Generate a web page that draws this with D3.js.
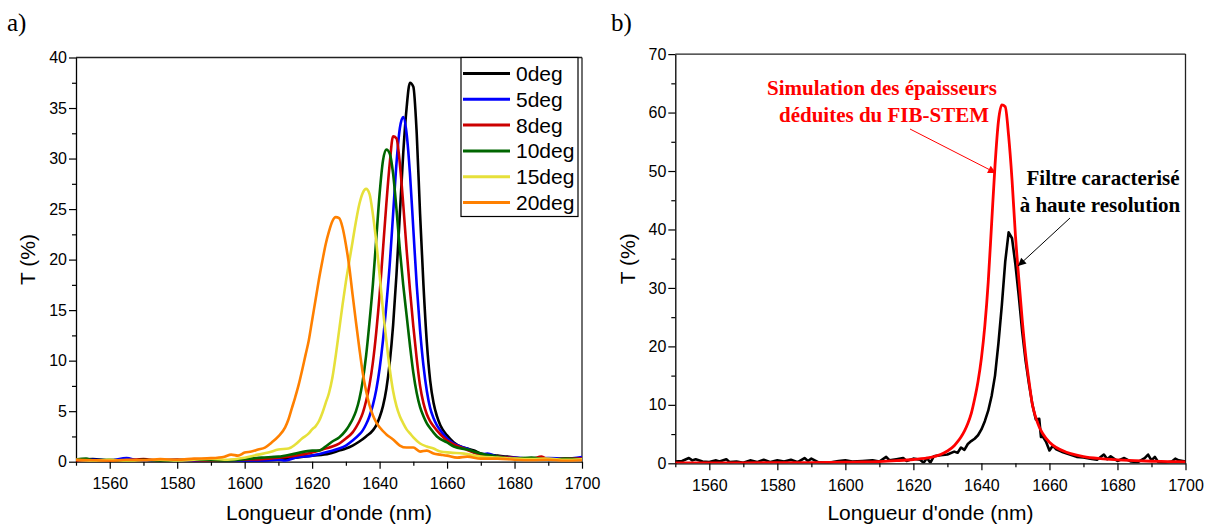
<!DOCTYPE html>
<html><head><meta charset="utf-8">
<script src="https://cdn.jsdelivr.net/npm/d3@7"></script>
<style>body{margin:0;background:#fff}svg{display:block}</style>
</head><body>
<svg id="c" width="1212" height="531"></svg>
<script>
// ---------- DATA ----------
const xTickValues = [1560, 1580, 1600, 1620, 1640, 1660, 1680, 1700];
const xMinorValues = [1550, 1570, 1590, 1610, 1630, 1650, 1670, 1690];
const yTicksA = [0, 5, 10, 15, 20, 25, 30, 35, 40];
const yMinorA = [2.5, 7.5, 12.5, 17.5, 22.5, 27.5, 32.5, 37.5];
const yTicksB = [0, 10, 20, 30, 40, 50, 60, 70];
const yMinorB = [5, 15, 25, 35, 45, 55, 65];

const legendLabels = ["0deg", "5deg", "8deg", "10deg", "15deg", "20deg"];
const seriesColors = ["#000000", "#0000FF", "#CC0000", "#006600", "#E6E03A", "#FF8000"];

// [wavelength nm, T %]
const deg0 = [[1550,0.2],[1555,0.25],[1560,0.15],[1565,0.2],[1570,0.1],[1575,0.15],[1580,0.2],[1585,0.1],[1590,0.15],[1595,0.05],[1600,0.05],[1605,0.1],[1610,0.2],[1615,0.4],[1620,0.6],[1625,0.8],[1628,1.1],[1630,1.3],[1632,1.6],[1634,2.0],[1636,2.5],[1638,3.1],[1639,3.6],[1640,4.4],[1641,5.5],[1642,7.2],[1643,9.8],[1644,13.5],[1645,18.5],[1646,24.5],[1647,30.5],[1648,35.0],[1649,37.5],[1650,37.1],[1651,32.5],[1652,24.5],[1653,17.5],[1654,11.8],[1655,8.0],[1656,5.8],[1657,4.5],[1658,3.6],[1660,2.6],[1662,1.9],[1664,1.5],[1666,1.3],[1668,1.1],[1670,0.8],[1672,0.7],[1675,0.6],[1678,0.5],[1680,0.4],[1685,0.3],[1690,0.2],[1695,0.25],[1700,0.2]];
const deg5 = [[1550,0.2],[1555,0.2],[1560,0.15],[1565,0.35],[1568,0.15],[1570,0.1],[1575,0.15],[1580,0.15],[1585,0.1],[1590,0.1],[1595,0.1],[1600,0.1],[1605,0.1],[1610,0.2],[1612,0.1],[1615,0.4],[1620,0.6],[1625,1.0],[1628,1.3],[1630,1.6],[1632,2.1],[1634,2.7],[1635,3.1],[1636,3.7],[1637,4.5],[1638,5.6],[1639,7.1],[1640,9.2],[1641,12.0],[1642,15.5],[1643,19.5],[1644,24.5],[1645,29.5],[1646,33.0],[1647,34.1],[1648,32.5],[1649,28.5],[1650,23.0],[1651,17.5],[1652,13.0],[1653,9.5],[1654,7.0],[1655,5.3],[1656,4.3],[1657,3.6],[1658,3.1],[1660,2.3],[1662,1.8],[1664,1.5],[1666,1.3],[1668,0.9],[1670,0.7],[1672,0.8],[1675,0.5],[1680,0.4],[1685,0.3],[1690,0.35],[1695,0.3],[1700,0.45]];
const deg8 = [[1550,0.1],[1555,0.15],[1560,0.1],[1565,0.15],[1570,0.25],[1575,0.15],[1580,0.2],[1585,0.15],[1590,0.1],[1595,0.15],[1600,0.2],[1605,0.25],[1610,0.4],[1615,0.6],[1620,0.9],[1624,1.3],[1626,1.5],[1628,1.8],[1630,2.3],[1632,2.9],[1633,3.4],[1634,4.0],[1635,4.8],[1636,6.0],[1637,7.6],[1638,9.8],[1639,12.8],[1640,16.5],[1641,21.0],[1642,25.5],[1643,29.5],[1644,32.2],[1645,32.0],[1646,29.5],[1647,25.5],[1648,21.0],[1649,17.0],[1650,13.4],[1651,10.2],[1652,7.5],[1653,5.8],[1654,4.7],[1655,4.0],[1656,3.5],[1658,2.7],[1660,2.1],[1662,1.7],[1665,1.3],[1668,0.9],[1670,0.7],[1675,0.5],[1680,0.35],[1685,0.3],[1688,0.5],[1690,0.2],[1695,0.3],[1700,0.3]];
const deg10 = [[1550,0.2],[1553,0.3],[1555,0.15],[1560,0.2],[1565,0.1],[1570,0.2],[1575,0.1],[1580,0.15],[1585,0.2],[1590,0.15],[1595,0.1],[1600,0.25],[1605,0.4],[1610,0.5],[1615,0.8],[1620,1.1],[1622,1.1],[1624,1.5],[1626,2.0],[1628,2.4],[1630,3.1],[1631,3.6],[1632,4.2],[1633,5.0],[1634,6.2],[1635,8.0],[1636,10.5],[1637,13.8],[1638,17.5],[1639,22.0],[1640,26.5],[1641,29.8],[1642,30.9],[1643,30.5],[1644,28.5],[1645,25.0],[1646,21.0],[1647,17.5],[1648,14.5],[1649,11.5],[1650,8.8],[1651,6.8],[1652,5.4],[1653,4.5],[1654,3.8],[1655,3.3],[1657,2.5],[1660,1.9],[1662,1.5],[1666,1.2],[1670,0.8],[1675,0.5],[1680,0.3],[1685,0.4],[1690,0.2],[1695,0.3],[1700,0.2]];
const deg15 = [[1550,0.2],[1555,0.1],[1560,0.2],[1565,0.1],[1570,0.15],[1575,0.2],[1580,0.1],[1585,0.2],[1590,0.3],[1595,0.2],[1600,0.4],[1604,0.7],[1607,0.9],[1610,1.2],[1613,1.3],[1615,1.7],[1617,2.3],[1619,2.8],[1620,3.2],[1621,3.5],[1622,4.0],[1623,4.8],[1624,5.8],[1625,6.8],[1626,8.3],[1627,10.5],[1628,13.0],[1629,15.5],[1630,17.8],[1631,19.8],[1632,21.8],[1633,23.8],[1634,25.5],[1635,26.6],[1636,27.0],[1637,26.5],[1638,24.5],[1639,21.8],[1640,18.5],[1641,15.0],[1642,12.0],[1643,9.2],[1644,7.0],[1645,5.5],[1646,4.5],[1647,3.8],[1648,3.2],[1649,2.8],[1650,2.4],[1652,1.8],[1654,1.5],[1656,1.3],[1658,1.0],[1661,0.9],[1665,0.8],[1670,0.5],[1675,0.4],[1680,0.3],[1685,0.25],[1690,0.3],[1695,0.2],[1700,0.25]];
const deg20 = [[1550,0.2],[1555,0.15],[1560,0.1],[1565,0.2],[1570,0.15],[1575,0.25],[1580,0.2],[1585,0.3],[1590,0.35],[1594,0.5],[1596,0.7],[1598,0.6],[1600,0.9],[1602,1.0],[1604,1.2],[1606,1.4],[1608,1.9],[1610,2.5],[1612,3.4],[1613,4.2],[1614,5.3],[1615,6.4],[1616,7.6],[1617,9.0],[1618,10.5],[1619,12.0],[1620,14.0],[1621,16.0],[1622,18.0],[1623,19.8],[1624,21.5],[1625,22.8],[1626,23.8],[1627,24.2],[1628,24.1],[1629,23.2],[1630,21.5],[1631,19.3],[1632,16.5],[1633,13.8],[1634,11.2],[1635,8.8],[1636,7.0],[1637,5.6],[1638,4.6],[1639,3.9],[1640,3.4],[1642,2.7],[1644,2.2],[1646,1.6],[1648,1.4],[1650,1.4],[1652,1.0],[1654,1.1],[1656,0.8],[1658,0.7],[1660,0.6],[1663,0.4],[1666,0.5],[1670,0.3],[1675,0.3],[1680,0.2],[1685,0.15],[1690,0.2],[1695,0.1],[1700,0.15]];

const measured = [[1550,0.3],[1552,0.4],[1554,0.9],[1555,0.5],[1556,0.7],[1558,0.3],[1560,0.2],[1562,0.5],[1563,0.3],[1565,0.7],[1566,0.2],[1568,0.3],[1570,0.1],[1572,0.5],[1574,0.2],[1576,0.6],[1578,0.2],[1580,0.5],[1582,0.3],[1584,0.6],[1586,0.2],[1588,0.9],[1589,0.4],[1590,0.8],[1592,0.2],[1595,0.1],[1598,0.4],[1600,0.5],[1602,0.3],[1605,0.4],[1608,0.5],[1610,0.3],[1612,1.1],[1613,0.5],[1615,0.7],[1617,0.9],[1618,0.4],[1620,0.8],[1622,0.6],[1623,0.1],[1624,0.9],[1625,0.1],[1626,1.2],[1628,1.4],[1630,1.5],[1632,2.0],[1633,1.8],[1634,2.7],[1635,2.3],[1636,3.3],[1637,3.8],[1638,4.2],[1639,4.8],[1640,5.8],[1641,7.2],[1642,9.0],[1643,11.5],[1644,15.0],[1645,20.5],[1646,27.0],[1647,34.5],[1648,39.5],[1649,38.5],[1650,34.0],[1651,28.5],[1652,22.5],[1653,17.5],[1654,13.5],[1655,10.0],[1656,7.5],[1657,7.6],[1657.5,4.5],[1658,4.6],[1659,3.7],[1660,2.2],[1661,3.0],[1662,2.4],[1664,1.9],[1666,1.5],[1668,1.1],[1670,1.0],[1672,0.8],[1674,0.6],[1676,1.5],[1677,0.7],[1678,1.2],[1680,0.4],[1682,0.9],[1684,0.3],[1686,0.2],[1688,0.9],[1689,1.5],[1690,0.5],[1691,1.1],[1692,0.2],[1694,0.1],[1696,0.3],[1697,0.8],[1698,0.5],[1700,0.3]];
const simulation = [[1550,0.05],[1560,0.07],[1570,0.08],[1580,0.1],[1590,0.12],[1600,0.18],[1605,0.22],[1610,0.3],[1615,0.45],[1620,0.65],[1625,1.0],[1628,1.5],[1630,2.1],[1632,3.0],[1633,3.7],[1634,4.5],[1635,5.5],[1636,6.8],[1637,8.5],[1638,11.0],[1639,14.0],[1640,18.0],[1641,23.5],[1642,31.0],[1643,41.0],[1644,51.0],[1645,58.5],[1646,61.3],[1647,61.0],[1648,56.0],[1649,48.5],[1650,39.0],[1651,31.5],[1652,24.5],[1653,18.5],[1654,14.0],[1655,10.0],[1656,7.8],[1657,6.2],[1658,5.1],[1660,3.6],[1662,2.7],[1665,1.9],[1668,1.4],[1670,1.15],[1675,0.8],[1680,0.6],[1685,0.45],[1690,0.35],[1695,0.3],[1700,0.25]];

const seriesA = [deg0, deg5, deg8, deg10, deg15, deg20];

// ---------- DRAW ----------
const svg = d3.select("#c");
const sansFont = "'Liberation Sans', Arial, sans-serif";
const serifFont = "'Liberation Serif', 'Times New Roman', serif";

function panel(opts) {
  const x = d3.scaleLinear().domain([1550, 1700]).range(opts.xr);
  const y = d3.scaleLinear().domain(opts.yd).range(opts.yr);
  const g = svg.append("g");
  const clipId = "clip" + opts.id;
  svg.append("defs").append("clipPath").attr("id", clipId)
    .append("rect").attr("x", opts.xr[0]).attr("y", opts.yr[1])
    .attr("width", opts.xr[1] - opts.xr[0]).attr("height", opts.yr[0] - opts.yr[1]);

  // minor ticks
  g.append("g").attr("transform", `translate(0,${opts.yr[0]})`)
    .call(d3.axisBottom(x).tickValues(xMinorValues).tickSize(4).tickFormat(""))
    .call(a => a.select(".domain").remove());
  g.append("g").attr("transform", `translate(${opts.xr[0]},0)`)
    .call(d3.axisLeft(y).tickValues(opts.yMinor).tickSize(4).tickFormat(""))
    .call(a => a.select(".domain").remove());
  // major
  const xa = g.append("g").attr("transform", `translate(0,${opts.yr[0]})`)
    .call(d3.axisBottom(x).tickValues(xTickValues).tickSize(7).tickPadding(9).tickSizeOuter(0).tickFormat(d3.format("d")));
  const ya = g.append("g").attr("transform", `translate(${opts.xr[0]},0)`)
    .call(d3.axisLeft(y).tickValues(opts.yTicks).tickSize(7).tickPadding(2).tickSizeOuter(0).tickFormat(d3.format("d")));
  [xa, ya].forEach(a => {
    a.selectAll("text").attr("font-family", sansFont).attr("font-size", 16).attr("fill", "#000");
    a.selectAll("line").attr("stroke", "#000").attr("stroke-width", 1.2);
    a.select(".domain").attr("stroke", "#000").attr("stroke-width", 1.3);
  });
  g.selectAll("line").attr("stroke", "#000").attr("stroke-width", 1.2);
  // top and right frame
  g.append("line").attr("x1", opts.xr[0]).attr("x2", opts.xr[1]).attr("y1", opts.yr[1]).attr("y2", opts.yr[1])
    .attr("stroke", "#222").attr("stroke-width", 1.3);
  g.append("line").attr("x1", opts.xr[1]).attr("x2", opts.xr[1]).attr("y1", opts.yr[1]).attr("y2", opts.yr[0])
    .attr("stroke", "#222").attr("stroke-width", 1.3);

  // titles
  g.append("text").attr("x", (opts.xr[0] + opts.xr[1]) / 2).attr("y", 520)
    .attr("text-anchor", "middle").attr("font-family", sansFont).attr("font-size", 21)
    .text("Longueur d'onde (nm)");
  g.append("text").attr("transform", `translate(${opts.ytx},${(opts.yr[0] + opts.yr[1]) / 2}) rotate(-90)`)
    .attr("text-anchor", "middle").attr("font-family", sansFont).attr("font-size", 21)
    .text("T (%)");
  g.append("text").attr("x", opts.labelX).attr("y", 31).attr("font-family", serifFont).attr("font-size", 25)
    .text(opts.label);

  const line = d3.line().x(d => x(d[0])).y(d => y(d[1])).curve(d3.curveMonotoneX);
  const lg = svg.append("g").attr("clip-path", `url(#${clipId})`);
  return { x, y, line, lg };
}

// Panel a
const A = panel({ id: "a", xr: [76, 582], yr: [461.7, 57.5], yd: [0, 40], yTicks: yTicksA, yMinor: yMinorA, ytx: 35, labelX: 7, label: "a)" });
seriesA.forEach((s, i) => {
  A.lg.append("path").datum(s).attr("d", A.line).attr("fill", "none")
    .attr("stroke", seriesColors[i]).attr("stroke-width", 2.6).attr("stroke-linejoin", "round");
});
// legend
const leg = svg.append("g");
leg.append("rect").attr("x", 461).attr("y", 57.5).attr("width", 117).attr("height", 159)
  .attr("fill", "#fff").attr("stroke", "#000").attr("stroke-width", 1.2);
legendLabels.forEach((t, i) => {
  const yy = 73.5 + i * 25.8;
  leg.append("line").attr("x1", 463).attr("x2", 510).attr("y1", yy).attr("y2", yy)
    .attr("stroke", seriesColors[i]).attr("stroke-width", 3);
  leg.append("text").attr("x", 516).attr("y", yy + 7.5).attr("font-family", sansFont).attr("font-size", 21).text(t);
});

// Panel b
const B = panel({ id: "b", xr: [675.3, 1185.5], yr: [463.3, 54.1], yd: [0, 70], yTicks: yTicksB, yMinor: yMinorB, ytx: 635, labelX: 611, label: "b)" });
B.lg.append("path").datum(measured).attr("d", B.line.curve(d3.curveLinear)).attr("fill", "none")
  .attr("stroke", "#000").attr("stroke-width", 2.6).attr("stroke-linejoin", "round");
B.lg.append("path").datum(simulation).attr("d", B.line.curve(d3.curveMonotoneX)).attr("fill", "none")
  .attr("stroke", "#FF0000").attr("stroke-width", 2.8).attr("stroke-linejoin", "round");

// annotations
const defs = svg.append("defs");
[["arrR", "#FF0000"], ["arrK", "#000"]].forEach(([id, c]) => {
  defs.append("marker").attr("id", id).attr("viewBox", "0 0 10 10").attr("refX", 10).attr("refY", 5)
    .attr("markerWidth", 14).attr("markerHeight", 8).attr("markerUnits", "userSpaceOnUse").attr("orient", "auto")
    .append("path").attr("d", "M0,0 L10,5 L0,10 z").attr("fill", c);
});
const ann = svg.append("g").attr("font-family", serifFont).attr("font-weight", "bold").attr("font-size", 21).attr("text-anchor", "middle");
ann.append("text").attr("x", 882).attr("y", 95).attr("fill", "#FF0000").text("Simulation des épaisseurs");
ann.append("text").attr("x", 884).attr("y", 122).attr("fill", "#FF0000").text("déduites du FIB-STEM");
ann.append("text").attr("x", 1103).attr("y", 185).attr("fill", "#000").text("Filtre caracterisé");
ann.append("text").attr("x", 1100).attr("y", 212).attr("fill", "#000").text("à haute resolution");
svg.append("line").attr("x1", 910).attr("y1", 129).attr("x2", 996).attr("y2", 173)
  .attr("stroke", "#FF0000").attr("stroke-width", 1).attr("marker-end", "url(#arrR)");
svg.append("line").attr("x1", 1070).attr("y1", 218).attr("x2", 1018).attr("y2", 266)
  .attr("stroke", "#000").attr("stroke-width", 1).attr("marker-end", "url(#arrK)");
</script>
</body></html>
